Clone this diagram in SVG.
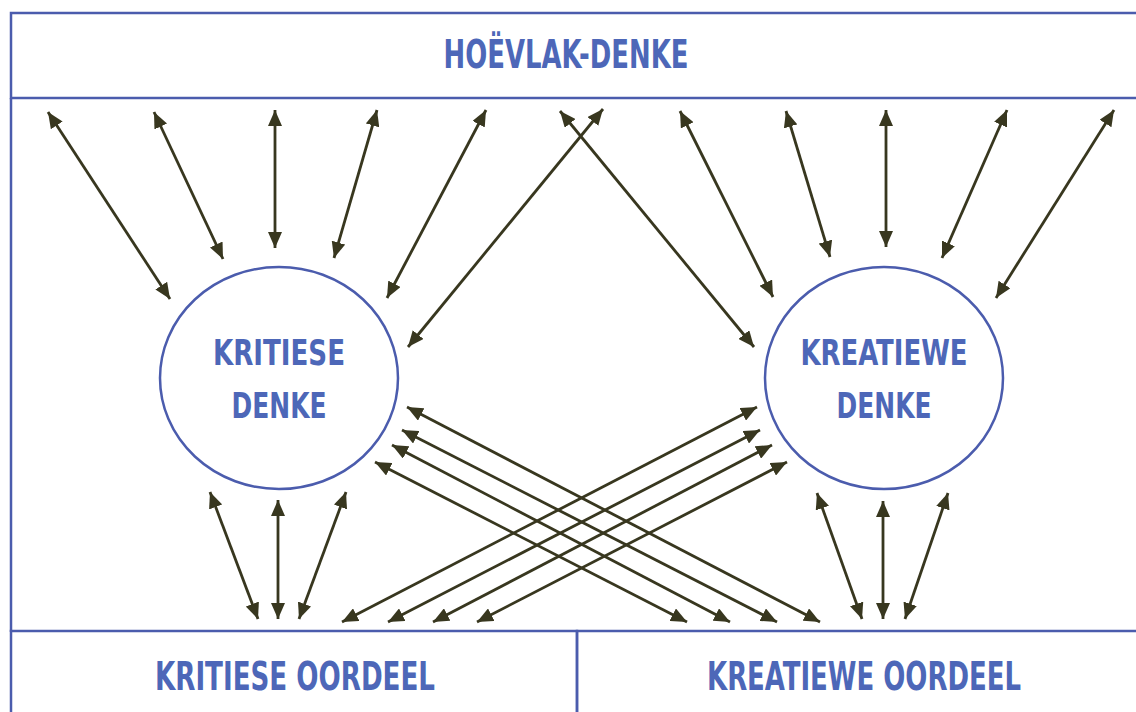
<svg xmlns="http://www.w3.org/2000/svg" width="1136" height="712" viewBox="0 0 1136 712">
  <defs>
    <marker id="ah" viewBox="0 0 16 14" refX="16" refY="7" markerWidth="16" markerHeight="14" markerUnits="userSpaceOnUse" orient="auto-start-reverse">
      <path d="M0,0 L16,7 L0,14 z" fill="#38371f"/>
    </marker>
  </defs>
  <style>
    .frame { fill: none; stroke: #4b5cad; stroke-width: 2.5; }
    .lbl { font-family: "DejaVu Sans Condensed", "DejaVu Sans", "Liberation Sans", sans-serif; font-weight: bold; fill: #4d67b8; text-anchor: middle; }
    .big { font-size: 39px; }
    .mid { font-size: 35px; }
    .con line { stroke: #38371f; stroke-width: 2.8; marker-start: url(#ah); marker-end: url(#ah); }
  </style>
  <rect width="1136" height="712" fill="#ffffff"/>

  <g id="hoevlak">
    <rect class="frame" x="11" y="13" width="1135" height="85"/>
    <text class="lbl big" x="566" y="68" textLength="245" lengthAdjust="spacingAndGlyphs">HOËVLAK-DENKE</text>
  </g>
  <g id="frame-sides">
    <line class="frame" x1="11" y1="98" x2="11" y2="632"/>
  </g>

  <g id="kritiese-denke">
    <ellipse class="frame" cx="279" cy="378" rx="119" ry="111"/>
    <text class="lbl mid" x="279" y="365" textLength="132" lengthAdjust="spacingAndGlyphs">KRITIESE</text>
    <text class="lbl mid" x="279" y="418" textLength="95" lengthAdjust="spacingAndGlyphs">DENKE</text>
  </g>

  <g id="kreatiewe-denke">
    <ellipse class="frame" cx="884" cy="378" rx="119" ry="111"/>
    <text class="lbl mid" x="884" y="365" textLength="167" lengthAdjust="spacingAndGlyphs">KREATIEWE</text>
    <text class="lbl mid" x="884" y="418" textLength="95" lengthAdjust="spacingAndGlyphs">DENKE</text>
  </g>

  <g id="kritiese-oordeel">
    <rect class="frame" x="11" y="631" width="566" height="100"/>
    <text class="lbl big" x="295" y="690" textLength="280" lengthAdjust="spacingAndGlyphs">KRITIESE OORDEEL</text>
  </g>

  <g id="kreatiewe-oordeel">
    <rect class="frame" x="577" y="631" width="570" height="100"/>
    <text class="lbl big" x="864" y="690" textLength="314" lengthAdjust="spacingAndGlyphs">KREATIEWE OORDEEL</text>
  </g>

  <g id="connectors" class="con">
    <!-- top fan to KRITIESE DENKE -->
    <line x1="48" y1="112" x2="170" y2="299"/>
    <line x1="154" y1="112" x2="223" y2="259"/>
    <line x1="275" y1="110" x2="275" y2="248"/>
    <line x1="377" y1="110" x2="334" y2="258"/>
    <line x1="486" y1="110" x2="387" y2="298"/>
    <line x1="603" y1="109" x2="408" y2="347"/>
    <!-- top fan to KREATIEWE DENKE -->
    <line x1="560" y1="111" x2="754" y2="347"/>
    <line x1="680" y1="111" x2="773" y2="297"/>
    <line x1="786" y1="111" x2="830" y2="257"/>
    <line x1="886" y1="110" x2="886" y2="247"/>
    <line x1="1007" y1="110" x2="942" y2="258"/>
    <line x1="1114" y1="110" x2="996" y2="298"/>
    <!-- KRITIESE DENKE to KRITIESE OORDEEL -->
    <line x1="210" y1="492" x2="258" y2="619"/>
    <line x1="278" y1="500" x2="278" y2="619"/>
    <line x1="346" y1="492" x2="299" y2="619"/>
    <!-- KREATIEWE DENKE to KREATIEWE OORDEEL -->
    <line x1="817" y1="493" x2="862" y2="619"/>
    <line x1="883" y1="501" x2="883" y2="619"/>
    <line x1="948" y1="493" x2="905" y2="619"/>
    <!-- crossing: KRITIESE DENKE to KREATIEWE OORDEEL -->
    <line x1="407" y1="407" x2="820" y2="622"/>
    <line x1="402" y1="430" x2="777" y2="622"/>
    <line x1="392" y1="445" x2="730" y2="622"/>
    <line x1="375" y1="462" x2="687" y2="622"/>
    <!-- crossing: KREATIEWE DENKE to KRITIESE OORDEEL -->
    <line x1="757" y1="407" x2="342" y2="622"/>
    <line x1="760" y1="430" x2="388" y2="622"/>
    <line x1="772" y1="445" x2="433" y2="622"/>
    <line x1="787" y1="462" x2="477" y2="622"/>
  </g>
</svg>
